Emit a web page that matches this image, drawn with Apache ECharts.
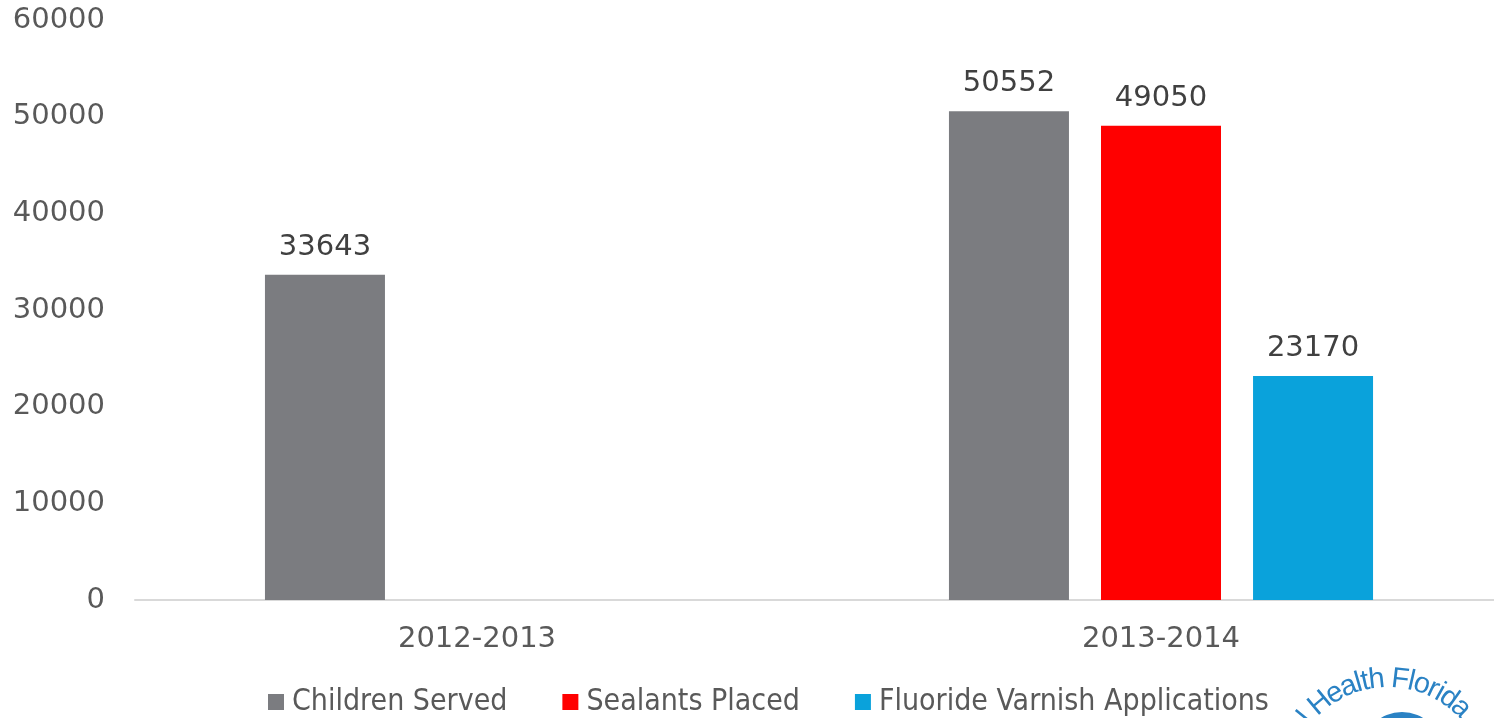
<!DOCTYPE html>
<html>
<head>
<meta charset="utf-8">
<script src="https://cdn.jsdelivr.net/npm/echarts@6/dist/echarts.min.js"></script>
<style>
  html, body { margin: 0; padding: 0; background: #fff; }
  #chart { width: 1494px; height: 718px; }
</style>
</head>
<body>
<div id="chart"></div>
<script>
// data
const years = ['2012-2013', '2013-2014']
const childrenServed = [33643, 50552]
const sealantsPlaced = [null, 49050]
const fluorideVarnish = [null, 23170]
const yTicks = { min: 0, max: 60000, interval: 10000 }

const chart = echarts.init(document.getElementById('chart'))

const mainFont = 'DejaVu Sans'

const labelStyle = {
  show: true,
  position: 'top',
  distance: 13,
  color: '#404040',
  fontSize: 29,
  fontFamily: mainFont
}

// logo text on an arc (bottom right, cut off by the frame)
const logoText = 'Oral Health Florida'
const logoFont = '29px "Liberation Sans"'
const ctx = document.createElement('canvas').getContext('2d')
ctx.font = logoFont
const widths = logoText.split('').map(c => ctx.measureText(c).width * 0.95)
const cx = 1388, cy = 785, r = 106
// arc top sits in the gap between "Health" and "Florida"
let before = 0
for (let i = 0; i < 11; i++) before += widths[i]
before += widths[11] / 2
const logoEls = []
let acc = 0
for (let i = 0; i < logoText.length; i++) {
  const mid = acc + widths[i] / 2 - before
  acc += widths[i]
  const a = -Math.PI / 2 + mid / r
  logoEls.push({
    type: 'text',
    x: cx + r * Math.cos(a),
    y: cy + r * Math.sin(a),
    rotation: -(a + Math.PI / 2),
    style: {
      text: logoText[i],
      fill: '#2a82c4',
      font: logoFont,
      align: 'center',
      verticalAlign: 'middle'
    }
  })
}
logoEls.push({
  type: 'circle',
  shape: { cx: 1402, cy: 752, r: 40 },
  style: { fill: '#2a82c4' }
})

chart.setOption({
  animation: false,
  grid: { left: 135, top: 20, width: 1368, height: 580, containLabel: false, outerBoundsMode: 'none' },
  xAxis: {
    type: 'category',
    data: years,
    axisLine: { lineStyle: { color: '#d9d9d9', width: 2 } },
    axisTick: { show: false },
    axisLabel: { color: '#595959', fontSize: 29, margin: 25, fontFamily: mainFont }
  },
  yAxis: {
    type: 'value',
    min: yTicks.min,
    max: yTicks.max,
    interval: yTicks.interval,
    splitLine: { show: false },
    axisLine: { show: false },
    axisTick: { show: false },
    axisLabel: {
      color: '#595959',
      fontSize: 29,
      margin: 30,
      fontFamily: mainFont,
      formatter: v => String(v)
    }
  },
  legend: {
    bottom: 1,
    left: 268,
    padding: 0,
    icon: 'rect',
    itemWidth: 16,
    itemHeight: 16,
    itemGap: 55,
    textStyle: {
      color: '#595959',
      fontSize: 30,
      fontFamily: '"Liberation Sans Narrow", "DejaVu Sans Condensed", "Liberation Sans"',
      padding: [0, 0, 0, 3]
    },
    data: ['Children Served', 'Sealants Placed', 'Fluoride Varnish Applications']
  },
  series: [
    { name: 'Children Served', type: 'bar', data: childrenServed, barWidth: 120, barGap: '26.7%',
      itemStyle: { color: '#7b7c80' }, label: labelStyle },
    { name: 'Sealants Placed', type: 'bar', data: sealantsPlaced, barWidth: 120, barGap: '26.7%',
      itemStyle: { color: '#ff0000' }, label: labelStyle },
    { name: 'Fluoride Varnish Applications', type: 'bar', data: fluorideVarnish, barWidth: 120, barGap: '26.7%',
      itemStyle: { color: '#0aa2db' }, label: labelStyle }
  ],
  graphic: logoEls
})
</script>
</body>
</html>
